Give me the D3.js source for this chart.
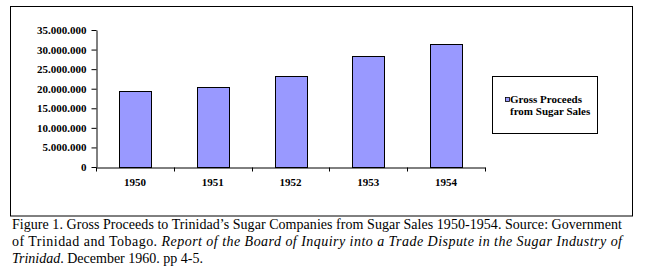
<!DOCTYPE html>
<html>
<head>
<meta charset="utf-8">
<script src="https://cdn.jsdelivr.net/npm/d3@7"></script>
<style>
  html, body { margin: 0; padding: 0; background: #fff; }
  svg { display: block; }
</style>
</head>
<body>
<svg id="chart" width="647" height="276"></svg>
<script>
const categories = ["1950", "1951", "1952", "1953", "1954"];
const grossProceeds = [19400000, 20350000, 23150000, 28250000, 31400000];
const yTicks = [0, 5000000, 10000000, 15000000, 20000000, 25000000, 30000000, 35000000];
const seriesName = ["Gross Proceeds", "from Sugar Sales"];
const captionLines = [
  [{t: "Figure 1. Gross Proceeds to Trinidad\u2019s Sugar Companies from Sugar Sales 1950-1954. Source: Government", i: false}],
  [{t: "of Trinidad and Tobago. ", i: false}, {t: "Report of the Board of Inquiry into a Trade Dispute in the Sugar Industry of", i: true}],
  [{t: "Trinidad", i: true}, {t: ". December 1960. pp 4-5.", i: false}]
];

const FONT = '"Liberation Serif", "Times New Roman", Times, serif';
const svg = d3.select("#chart");
const barFill = "#9999ff";

// outer frame
svg.append("rect").attr("x", 10.5).attr("y", 6.5).attr("width", 622).attr("height", 209.5)
  .attr("fill", "#fff").attr("stroke", "#000").attr("stroke-width", 1);

const x = d3.scaleBand().domain(categories).range([96, 485]).paddingInner(0.59).paddingOuter(0.295);
const y = d3.scaleLinear().domain([0, 35000000]).range([167, 30]);

const locale = d3.formatLocale({decimal: ",", thousands: ".", grouping: [3], currency: ["", ""]});
const fmt = locale.format(",");

// bars
svg.append("g").selectAll("rect").data(grossProceeds).join("rect")
  .attr("x", (d, i) => Math.round(x(categories[i])) + 0.5)
  .attr("y", d => Math.round(y(d)) + 0.5)
  .attr("width", Math.round(x.bandwidth()))
  .attr("height", d => Math.round(y(0)) - Math.round(y(d)))
  .attr("fill", barFill).attr("stroke", "#000").attr("stroke-width", 1);

// y axis
const yAxis = svg.append("g").attr("transform", "translate(96.5,0)")
  .call(d3.axisLeft(y).tickValues(yTicks).tickFormat(fmt).tickSize(5).tickSizeOuter(0).tickPadding(5));
yAxis.select(".domain").attr("stroke", "#000");
yAxis.selectAll("text").style("font-family", FONT).style("font-weight", "bold")
  .style("font-size", "11px").attr("fill", "#000");

// x axis
const xAxis = svg.append("g").attr("transform", `translate(0,${Math.round(y(0)) + 0.5})`)
  .call(d3.axisBottom(x).tickSize(0).tickSizeOuter(0).tickPadding(11));
xAxis.select(".domain").attr("stroke", "#000");
xAxis.selectAll("text").style("font-family", FONT).style("font-weight", "bold")
  .style("font-size", "11px").attr("fill", "#000");
const bounds = categories.map((c, i) => x.range()[0] + i * x.step());
bounds.push(x.range()[1]);
xAxis.selectAll("line.bt").data(bounds).join("line").attr("class", "bt")
  .attr("x1", d => Math.round(d) + 0.5).attr("x2", d => Math.round(d) + 0.5)
  .attr("y1", 0).attr("y2", 4).attr("stroke", "#000");

// legend
const lg = svg.append("g");
lg.append("rect").attr("x", 492.5).attr("y", 76.5).attr("width", 105).attr("height", 57)
  .attr("fill", "#fff").attr("stroke", "#000");
lg.append("rect").attr("x", 505.5).attr("y", 97.5).attr("width", 4).attr("height", 4)
  .attr("fill", barFill).attr("stroke", "#000").attr("stroke-width", 0.8);
lg.selectAll("text").data(seriesName).join("text")
  .attr("x", 510).attr("y", (d, i) => 102.5 + i * 12.5)
  .style("font-family", FONT).style("font-weight", "bold").style("font-size", "11px").attr("fill", "#000")
  .text(d => d);

// caption
const cap = svg.append("g");
captionLines.forEach((line, li) => {
  const t = cap.append("text").attr("x", 12).attr("y", 228.5 + li * 17)
    .style("font-family", FONT).style("font-size", "14px").attr("fill", "#000");
  if (li < 2) t.attr("textLength", 610).attr("lengthAdjust", "spacing");
  line.forEach(seg => {
    t.append("tspan").style("font-style", seg.i ? "italic" : "normal").text(seg.t);
  });
});
</script>
</body>
</html>
